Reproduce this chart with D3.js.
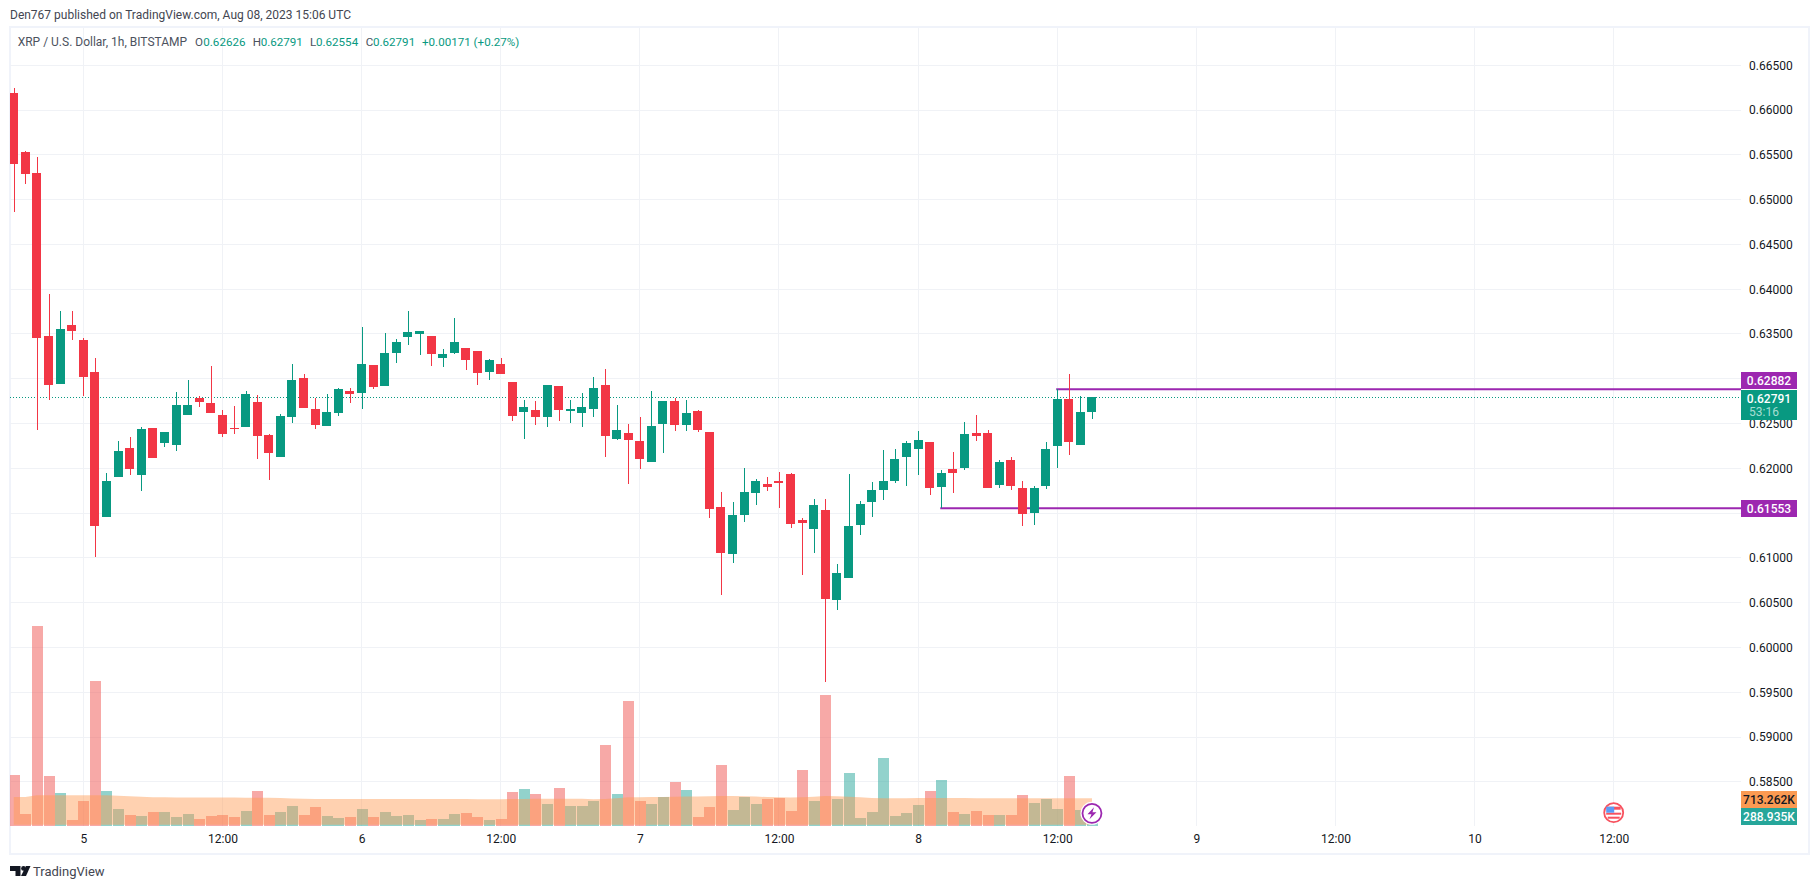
<!DOCTYPE html>
<html>
<head>
<meta charset="utf-8">
<title>XRP / U.S. Dollar</title>
<script src="https://cdnjs.cloudflare.com/ajax/libs/d3/7.8.5/d3.min.js"></script>
<style>
  html, body { margin: 0; padding: 0; background: #ffffff; overflow: hidden; }
  svg { display: block; font-family: Roboto, sans-serif; }
</style>
</head>
<body>
<div id="chart"></div>
<script>
// hours counted from Aug 5 00:00, first candle is 6 hours earlier
var firstHour = -6;

var opens = [
  0.66191,0.65532,0.65297,0.63477,0.62941,0.63600,0.63432,0.63075,0.61456,0.61903,
  0.62227,0.61925,0.62450,0.62282,0.62260,0.62595,0.62785,0.62729,0.62595,0.62450,
  0.62461,0.62740,0.62372,0.62126,0.62573,0.63008,0.62662,0.62472,0.62617,0.62863,
  0.62841,0.63153,0.62919,0.63287,0.63466,0.63500,0.63477,0.63232,0.63287,0.63343,
  0.63310,0.63075,0.63165,0.62964,0.62629,0.62651,0.62573,0.62919,0.62640,0.62617,
  0.62662,0.62930,0.62327,0.62394,0.62305,0.62070,0.62495,0.62751,0.62484,0.62640,
  0.62405,0.61568,0.61043,0.61479,0.61724,0.61825,0.61858,0.61936,0.61423,0.61322,
  0.61534,0.60530,0.60775,0.61367,0.61624,0.61758,0.61858,0.62126,0.62215,0.62294,
  0.61791,0.61992,0.62003,0.62394,0.62394,0.61813,0.62093,0.61780,0.61501,0.61802,
  0.62249,0.62774,0.62260,0.62626
];
var highs = [
  0.66246,0.65543,0.65476,0.63946,0.63756,0.63756,0.63455,0.63232,0.61947,0.62305,
  0.62349,0.62461,0.62450,0.62405,0.62852,0.62986,0.62807,0.63142,0.62651,0.62696,
  0.62863,0.62818,0.62383,0.62606,0.63165,0.63053,0.62785,0.62830,0.62897,0.62897,
  0.63578,0.63153,0.63511,0.63444,0.63756,0.63533,0.63477,0.63332,0.63678,0.63343,
  0.63310,0.63220,0.63232,0.62964,0.62763,0.62751,0.62930,0.62919,0.62763,0.62841,
  0.63019,0.63109,0.62707,0.62495,0.62573,0.62863,0.62751,0.62785,0.62763,0.62651,
  0.62405,0.61735,0.61624,0.62003,0.61880,0.61903,0.61959,0.61947,0.61445,0.61657,
  0.61657,0.60931,0.61936,0.61635,0.61847,0.62204,0.62215,0.62305,0.62416,0.62294,
  0.61981,0.62182,0.62517,0.62595,0.62428,0.62093,0.62126,0.61858,0.61802,0.62294,
  0.62885,0.63053,0.62807,0.62791
];
var lows = [
  0.64865,0.65178,0.62431,0.62763,0.62941,0.63432,0.62807,0.61010,0.61456,0.61903,
  0.61925,0.61746,0.62115,0.62238,0.62193,0.62595,0.62684,0.62617,0.62349,0.62383,
  0.62461,0.62104,0.61869,0.62126,0.62506,0.62673,0.62439,0.62472,0.62584,0.62729,
  0.62662,0.62885,0.62919,0.63176,0.63377,0.63265,0.63142,0.63131,0.63276,0.63098,
  0.62930,0.62986,0.63053,0.62528,0.62327,0.62484,0.62461,0.62528,0.62506,0.62461,
  0.62573,0.62126,0.62316,0.61825,0.61992,0.62070,0.62171,0.62416,0.62416,0.62405,
  0.61445,0.60585,0.60943,0.61400,0.61590,0.61746,0.61557,0.61333,0.60809,0.61054,
  0.59614,0.60418,0.60775,0.61255,0.61456,0.61646,0.61836,0.61802,0.61925,0.61702,
  0.61557,0.61724,0.61981,0.62305,0.61780,0.61780,0.61758,0.61356,0.61367,0.61769,
  0.62003,0.62149,0.62260,0.62554
];
var closes = [
  0.65401,0.65290,0.63455,0.62930,0.63555,0.63533,0.63019,0.61356,0.61858,0.62193,
  0.61992,0.62439,0.62115,0.62405,0.62707,0.62707,0.62740,0.62617,0.62383,0.62439,
  0.62830,0.62361,0.62171,0.62584,0.62986,0.62673,0.62484,0.62629,0.62885,0.62830,
  0.63165,0.62908,0.63287,0.63410,0.63522,0.63533,0.63276,0.63276,0.63410,0.63209,
  0.63064,0.63209,0.63053,0.62584,0.62684,0.62573,0.62930,0.62651,0.62662,0.62684,
  0.62897,0.62361,0.62428,0.62316,0.62104,0.62472,0.62751,0.62484,0.62617,0.62428,
  0.61546,0.61054,0.61479,0.61735,0.61858,0.61791,0.61836,0.61378,0.61389,0.61590,
  0.60541,0.60831,0.61356,0.61601,0.61758,0.61858,0.62104,0.62282,0.62316,0.61780,
  0.61947,0.61947,0.62383,0.62361,0.61780,0.62070,0.61802,0.61490,0.61780,0.62215,
  0.62774,0.62294,0.62629,0.62791
];
// volume in thousands
var volumes = [
  1320,305,5198,1294,851,148,643,3767,903,435,
  279,252,357,357,226,305,174,252,279,226,
  383,903,279,357,513,279,487,252,200,226,
  435,226,357,252,279,148,174,174,305,331,
  226,148,174,877,955,825,565,981,513,513,
  643,2101,825,3246,643,565,747,1138,929,226,
  487,1580,409,747,565,695,721,383,1450,643,
  3402,695,1372,200,357,1762,252,331,539,903,
  1190,357,305,383,279,279,279,799,591,695,
  435,1294,409,288.935
];
var volumeMA = [
  745,745,790,795,795,792,790,795,790,780,
  770,755,742,738,736,735,735,733,733,732,
  731,731,729,720,706,700,698,697,696,696,
  695,695,695,695,694,694,695,694,693,693,
  692,691,691,693,697,700,701,704,704,703,
  692,695,713,739,744,746,748,755,760,762,
  768,776,774,770,758,747,740,737,739,755,
  773,770,755,738,722,718,716,717,719,720,
  722,722,720,718,716,715,714,713,714,714,
  713,714,713,713.262
];

var priceTicks = [0.665,0.66,0.655,0.65,0.645,0.64,0.635,0.63,0.625,0.62,0.615,0.61,0.605,0.6,0.595,0.59,0.585];
var timeTicks = [0,12,24,36,48,60,72,84,96,108,120,132];
var timeLabels = ["5","12:00","6","12:00","7","12:00","8","12:00","9","12:00","10","12:00"];

// drawn levels: price, hour where the line starts
var levelPrices = [0.62882, 0.61553];
var levelStarts = [84, 74];
var lastPrice = 0.62791;

var colUp = "#089981", colDown = "#f23645", colPurple = "#9c27b0";
var colGrid = "#f0f2f6", colFrame = "#f0f3fa", colText = "#131722";

var w = 1819, h = 889;
var paneRight = 1741, paneLeft = 10, paneTop = 28, paneBottom = 826;

var svgCont = d3.select("#chart").append("svg")
  .attr("width", w).attr("height", h).attr("viewBox", "0 0 " + w + " " + h);

var x = d3.scaleLinear().domain([0, 132]).range([83.3, 1613.7]);
var y = d3.scaleLinear().domain([0.665, 0.585]).range([65.3, 781.8]);
var yVol = d3.scaleLinear().domain([0, 5200]).range([825.7, 626]);

var bars = d3.range(opens.length).map(function(i) {
  return { t: firstHour + i, o: opens[i], h: highs[i], l: lows[i], c: closes[i], v: volumes[i], ma: volumeMA[i] };
});

svgCont.append("clipPath").attr("id", "pane").append("rect")
  .attr("x", paneLeft).attr("y", paneTop)
  .attr("width", paneRight - paneLeft).attr("height", paneBottom - paneTop);

// outer frame
svgCont.append("rect")
  .attr("x", 10).attr("y", 27).attr("width", 1799).attr("height", 827)
  .style("fill", "none").style("stroke", colFrame).style("stroke-width", 2);

// grid
var grid = svgCont.append("g").attr("shape-rendering", "crispEdges").style("stroke", colGrid);
grid.selectAll(".h").data(priceTicks).enter().append("line")
  .attr("x1", paneLeft).attr("x2", paneRight)
  .attr("y1", function(d) { return y(d); }).attr("y2", function(d) { return y(d); });
grid.selectAll(".v").data(timeTicks).enter().append("line")
  .attr("y1", paneTop).attr("y2", paneBottom)
  .attr("x1", function(d) { return x(d); }).attr("x2", function(d) { return x(d); });

var pane = svgCont.append("g").attr("clip-path", "url(#pane)");

// volume bars
pane.append("g").attr("shape-rendering", "crispEdges")
  .selectAll("rect").data(bars).enter().append("rect")
  .attr("x", function(d) { return Math.round(x(d.t) - 5); })
  .attr("width", 10.5)
  .attr("y", function(d) { return yVol(d.v); })
  .attr("height", function(d) { return yVol(0) - yVol(d.v); })
  .style("fill", function(d) { return d.c >= d.o ? "#26a69a" : "#ef5350"; })
  .style("opacity", 0.5);

// volume average area
var maArea = d3.area()
  .x(function(d) { return x(d.t); })
  .y0(yVol(0) - 1)
  .y1(function(d) { return yVol(d.ma); });
pane.append("path").datum(bars)
  .attr("d", maArea)
  .style("fill", "#ff9850")
  .style("opacity", 0.45);

// last price line and drawn levels go behind the candles
pane.append("line")
  .attr("x1", paneLeft).attr("x2", paneRight)
  .attr("y1", y(lastPrice)).attr("y2", y(lastPrice))
  .attr("shape-rendering", "crispEdges")
  .style("stroke", colUp).style("stroke-dasharray", "1 2");

pane.selectAll(".level").data(levelPrices).enter().append("line")
  .attr("x1", function(d, i) { return x(levelStarts[i]) - 1; })
  .attr("x2", paneRight)
  .attr("y1", function(d) { return y(d); })
  .attr("y2", function(d) { return y(d); })
  .style("stroke", colPurple).style("stroke-width", 2);

// candles
var candles = pane.append("g").attr("shape-rendering", "crispEdges")
  .selectAll("g").data(bars).enter().append("g")
  .style("fill", function(d) { return d.c >= d.o ? colUp : colDown; });
candles.append("rect")
  .attr("x", function(d) { return Math.round(x(d.t)) - 0.5; })
  .attr("width", 1)
  .attr("y", function(d) { return y(d.h); })
  .attr("height", function(d) { return y(d.l) - y(d.h); });
candles.append("rect")
  .attr("x", function(d) { return Math.round(x(d.t) - 4.5); })
  .attr("width", 9)
  .attr("y", function(d) { return y(Math.max(d.o, d.c)); })
  .attr("height", function(d) { return Math.max(1, Math.abs(y(d.o) - y(d.c))); });

// price axis; the tick under the last price label stays hidden as in the original
var axisY = svgCont.append("g")
  .attr("transform", "translate(" + paneRight + ",0)")
  .call(d3.axisRight(y).tickValues(priceTicks.filter(function(d) { return d !== 0.63; }))
    .tickSize(0).tickPadding(8).tickFormat(d3.format(".5f")));
axisY.select(".domain").remove();
axisY.selectAll("text").style("font-size", "12px").style("font-family", "Roboto, sans-serif").style("fill", colText);

// time axis
var axisX = svgCont.append("g")
  .attr("transform", "translate(0,831)")
  .call(d3.axisBottom(x).tickValues(timeTicks).tickSize(0).tickPadding(3)
    .tickFormat(function(d, i) { return timeLabels[i]; }));
axisX.select(".domain").remove();
axisX.selectAll("text").style("font-size", "12px").style("font-family", "Roboto, sans-serif").style("fill", colText);

// labels on the price axis
function axisLabel(top, bottom, fill, txt, txtFill) {
  svgCont.append("rect")
    .attr("x", paneRight).attr("y", top).attr("width", 56).attr("height", bottom - top)
    .attr("shape-rendering", "crispEdges")
    .style("fill", fill);
  svgCont.append("text")
    .attr("x", paneRight + 28).attr("y", Math.min(top + 13, (top + bottom) / 2 + 4.5))
    .attr("text-anchor", "middle")
    .style("font-size", "12px").style("font-weight", 500)
    .style("fill", txtFill).text(txt);
}
axisLabel(372, 389, colPurple, "0.62882", "#ffffff");
axisLabel(500, 517, colPurple, "0.61553", "#ffffff");
axisLabel(390, 420, colUp, "0.62791", "#ffffff");
svgCont.append("text").attr("x", paneRight + 8).attr("y", 416)
  .style("font-size", "12px").style("fill", "#a6ded2").text("53:16");
axisLabel(791, 808, "#fb9a52", "713.262K", colText);
axisLabel(808, 825, "#26a69a", "288.935K", "#ffffff");

// header
svgCont.append("text").attr("x", 10).attr("y", 19)
  .style("font-size", "12px").style("fill", "#434651")
  .text("Den767 published on TradingView.com, Aug 08, 2023 15:06 UTC");

// legend
var legend = [
  [17.7, "XRP / U.S. Dollar, 1h, BITSTAMP", "#4c525e", 12],
  [195, "O", "#4c525e", 11.6], [203.3, "0.62626", colUp, 11.6],
  [252.7, "H", "#4c525e", 11.6], [260.7, "0.62791", colUp, 11.6],
  [310, "L", "#4c525e", 11.6], [316, "0.62554", colUp, 11.6],
  [365.7, "C", "#4c525e", 11.6], [373, "0.62791", colUp, 11.6],
  [422, "+0.00171 (+0.27%)", colUp, 11.6]
];
svgCont.selectAll(".legend").data(legend).enter().append("text")
  .attr("x", function(d) { return d[0]; }).attr("y", 46)
  .style("font-size", function(d) { return d[3] + "px"; })
  .style("fill", function(d) { return d[2]; })
  .text(function(d) { return d[1]; });

// bolt marker on the last bar
var bolt = svgCont.append("g").attr("transform", "translate(" + x(87) + ",813.3)");
bolt.append("circle").attr("r", 11.5).style("fill", "#ffffff");
bolt.append("circle").attr("r", 9.5).style("fill", "#ffffff").style("stroke", colPurple).style("stroke-width", 1.8);
bolt.append("path").attr("d", "M2 -6 L-4.5 1 L-0.5 1 L-2.5 6 L4.5 -1 L0.5 -1 Z").style("fill", colPurple);

// economic event marker
var flag = svgCont.append("g").attr("transform", "translate(" + x(132) + ",812.7)");
flag.append("circle").attr("r", 9.5).style("fill", "#ffffff").style("stroke", "#f7525f").style("stroke-width", 1.8);
flag.append("rect").attr("x", -7).attr("y", -6).attr("width", 14).attr("height", 3).style("fill", "#f7525f");
flag.append("rect").attr("x", -7.5).attr("y", 0).attr("width", 15).attr("height", 2).style("fill", "#f7525f");
flag.append("rect").attr("x", -6).attr("y", 4).attr("width", 12).attr("height", 2).style("fill", "#f7525f");
flag.append("rect").attr("x", -7.5).attr("y", -6).attr("width", 8).attr("height", 6).style("fill", "#5b9cf6");

// logo
var logo = svgCont.append("g").style("fill", colText);
logo.append("path").attr("d", "M10 866 H20.5 V876 H15.5 V871 H10 Z");
logo.append("circle").attr("cx", 23.5).attr("cy", 868.4).attr("r", 2.4);
logo.append("path").attr("d", "M26 866 H30.5 L26 876 H21 Z");
svgCont.append("text").attr("x", 33).attr("y", 876)
  .style("font-size", "13px").style("fill", "#434651").text("TradingView");
</script>
</body>
</html>
